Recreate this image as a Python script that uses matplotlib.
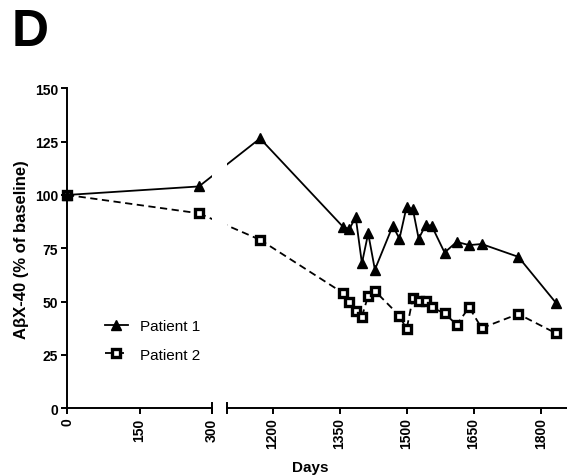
import numpy as np
import matplotlib
matplotlib.use("Agg")
import matplotlib.pyplot as plt
from matplotlib.lines import Line2D

plt.rcParams['font.family'] = ['Liberation Sans', 'DejaVu Sans']

# Days of sampling and values (% of baseline)
days_p1 = [0, 273, 1172, 1358, 1372, 1386, 1400, 1414, 1429, 1469, 1484, 1500,
           1514, 1527, 1543, 1556, 1585, 1612, 1640, 1668, 1750, 1834]
p1 = [100, 104, 126.5, 85, 84, 89.7, 68, 82, 65, 85.5, 79.5, 94.5,
      93.3, 79.5, 86, 85.6, 73, 78, 76.5, 77, 71, 49.5]

days_p2 = [0, 273, 1172, 1358, 1372, 1386, 1400, 1414, 1429, 1484, 1500,
           1514, 1527, 1543, 1556, 1585, 1612, 1640, 1668, 1750, 1834]
p2 = [100, 91.4, 79, 54, 49.7, 45.8, 43, 52.8, 55, 43.4, 37,
      51.7, 50.2, 50.4, 47.3, 44.5, 39.2, 47.3, 37.6, 44.2, 35.2]

left_ticks = [0, 150, 300]
right_ticks = [1200, 1350, 1500, 1650, 1800]
y_ticks = [0, 25, 50, 75, 100, 125, 150]

W, H = 567, 477
fig = plt.figure(figsize=(W / 100, H / 100), dpi=100)

y0, y1 = 409.3, 89.3
ax1 = fig.add_axes([67 / W, (H - y0) / H, (212 - 67) / W, (y0 - y1) / H])
ax2 = fig.add_axes([227 / W, (H - y0) / H, (567 - 227) / W, (y0 - y1) / H])

ax1.set_xlim(0, 300)
ax2.set_xlim(1098, 1859)
for ax in (ax1, ax2):
    ax.set_ylim(0, 150)
    ax.spines['top'].set_visible(False)
    ax.spines['right'].set_visible(False)
    for s in ax.spines.values():
        s.set_linewidth(1.4)
ax2.spines['left'].set_visible(False)
ax2.set_yticks([])

lw = 1.3
st1 = dict(color='black', lw=lw, marker='^', ms=6.5, mfc='black', mec='black')
st2 = dict(color='black', lw=lw, ls=(0, (4, 2.5)), marker='s', ms=5.6,
           mfc='white', mec='black', mew=2.4)

d1, v1 = np.array(days_p1), np.array(p1)
d2, v2 = np.array(days_p2), np.array(p2)

for ax, m in ((ax1, lambda d: d <= 300), (ax2, lambda d: d >= 1098)):
    k = m(d2)
    ax.plot(d2[k], v2[k], clip_on=False, zorder=3, **st2)
    k = m(d1)
    ax.plot(d1[k], v1[k], clip_on=False, zorder=4, **st1)

# segments crossing the axis break, straight in display space
for d, v, style in ((d1, v1, st1), (d2, v2, st2)):
    i = np.searchsorted(d, 300, side='right') - 1
    a, b = (d[i], v[i]), (d[i + 1], v[i + 1])
    disp_b = ax2.transData.transform(b)
    disp_a = ax1.transData.transform(a)
    b_in1 = ax1.transData.inverted().transform(disp_b)
    a_in2 = ax2.transData.inverted().transform(disp_a)
    s = dict(color='black', lw=lw, ls=style.get('ls', '-'))
    ax1.plot([a[0], b_in1[0]], [a[1], b_in1[1]], zorder=1, **s)
    ax2.plot([a_in2[0], b[0]], [a_in2[1], b[1]], zorder=1, **s)

ax1.set_yticks(y_ticks)
ax1.set_xticks(left_ticks)
ax2.set_xticks(right_ticks)
for ax in (ax1, ax2):
    ax.tick_params(axis='both', direction='out', length=4.5, width=1.4,
                   labelsize=10, pad=2)
    ax.tick_params(axis='x', labelrotation=90)
    for lab in ax.get_xticklabels() + ax.get_yticklabels():
        lab.set_fontweight('bold')

# break caps: ticks crossing the axis at both ends of the gap
ax1.plot([1, 1], [-0.016, 0.016], transform=ax1.transAxes, color='black',
         lw=1.4, clip_on=False)
ax2.plot([0, 0], [-0.016, 0.016], transform=ax2.transAxes, color='black',
         lw=1.4, clip_on=False)

ax1.set_ylabel('A\u03b2X-40 (% of baseline)', fontsize=12, fontweight='bold',
               labelpad=4)
fig.text(310 / W, 1 - 468 / H, 'Days', fontsize=11, fontweight='bold',
         ha='center', va='center')
fig.text(12 / W, 1 - 32 / H, 'D', fontsize=37, fontweight='bold',
         ha='left', va='center')

h1 = Line2D([], [], **st1)
h2 = Line2D([], [], **st2)
fig.legend([h1, h2], ['Patient 1', 'Patient 2'], loc='upper left',
           bbox_to_anchor=(105 / W, 1 - 320 / H), frameon=False,
           fontsize=11, handlelength=1.5, handletextpad=0.8,
           labelspacing=0.95, borderpad=0, borderaxespad=0)

fig.savefig('out.png', dpi=100)
